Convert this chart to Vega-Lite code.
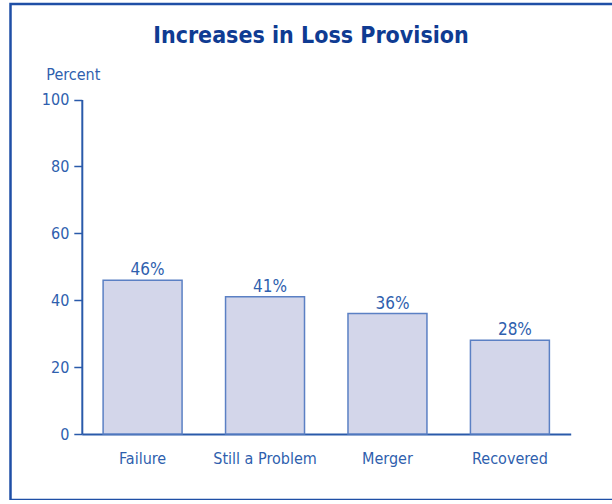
{
  "$schema": "https://vega.github.io/schema/vega-lite/v6.json",
  "autosize": "none",
  "width": 610,
  "height": 496,
  "padding": {"left": 10.5, "top": 4, "right": 0, "bottom": 0},
  "background": "white",
  "title": {
    "text": "Increases in Loss Provision",
    "anchor": "middle",
    "frame": "group",
    "baseline": "alphabetic",
    "offset": 0,
    "dy": 62,
    "dx": -4.5,
    "font": "'Liberation Sans Narrow', 'DejaVu Sans Condensed', sans-serif",
    "fontSize": 23,
    "fontWeight": "bold",
    "color": "#0f3b92"
  },
  "config": {
    "view": {"stroke": "#1f4fa6", "strokeWidth": 2.5},
    "font": "'Liberation Sans Narrow', 'DejaVu Sans Condensed', sans-serif"
  },
  "data": {
    "values": [
      {"category": "Failure", "percent": 46},
      {"category": "Still a Problem", "percent": 41},
      {"category": "Merger", "percent": 36},
      {"category": "Recovered", "percent": 28}
    ]
  },
  "transform": [{"calculate": "datum.percent + '%'", "as": "label"}],
  "encoding": {
    "x": {
      "field": "category",
      "type": "nominal",
      "sort": null,
      "scale": {"range": [71.3, 560.2], "paddingInner": 0.355, "paddingOuter": 0.174},
      "axis": {
        "title": null,
        "offset": -66,
        "labelAngle": 0,
        "ticks": false,
        "domainColor": "#2a5aaa",
        "domainWidth": 2,
        "labelColor": "#2f5fae",
        "labelFontSize": 16,
        "labelPadding": 16,
        "labelBaseline": "top"
      }
    },
    "y": {
      "field": "percent",
      "type": "quantitative",
      "scale": {"domain": [0, 100], "range": [430, 95.5], "nice": false},
      "axis": {
        "values": [0, 20, 40, 60, 80, 100],
        "offset": -71.3,
        "grid": false,
        "domainColor": "#2a5aaa",
        "domainWidth": 2,
        "tickColor": "#2a5aaa",
        "tickWidth": 1.5,
        "tickSize": 8,
        "labelColor": "#2f5fae",
        "labelFontSize": 16,
        "labelPadding": 5,
        "title": "Percent",
        "titleAngle": 0,
        "titleAlign": "left",
        "titleBaseline": "alphabetic",
        "titleX": -36,
        "titleY": 75,
        "titleColor": "#2f5fae",
        "titleFontSize": 16,
        "titleFontWeight": "normal"
      }
    }
  },
  "layer": [
    {
      "mark": {"type": "bar", "fill": "#d3d6ea", "stroke": "#5b80c4", "strokeWidth": 1.5}
    },
    {
      "mark": {"type": "text", "baseline": "alphabetic", "dy": -5, "dx": 5, "fontSize": 17, "color": "#2f5fae"},
      "encoding": {"text": {"field": "label", "type": "nominal"}}
    }
  ]
}
